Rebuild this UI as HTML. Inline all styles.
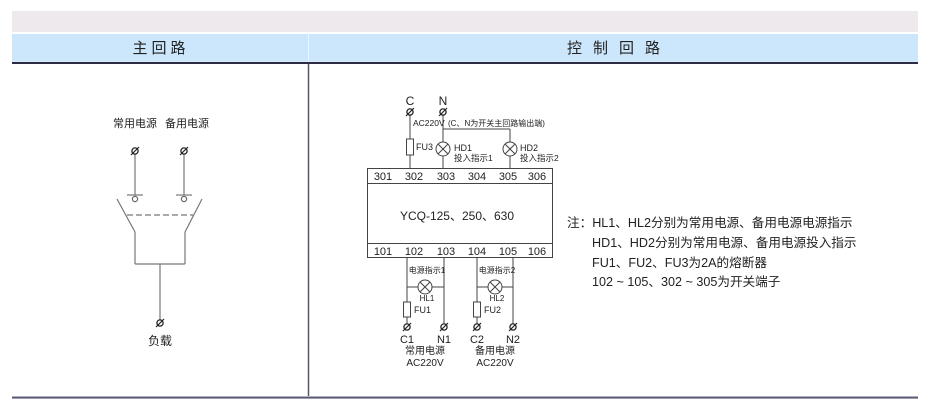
<!DOCTYPE html>
<html>
<head>
<meta charset="utf-8">
<style>
html,body{margin:0;padding:0;background:#fff;}
svg{display:block;}
text{font-family:"Liberation Sans","Noto Sans CJK SC",sans-serif;fill:#222;}
</style>
</head>
<body>
<svg width="930" height="414" viewBox="0 0 930 414" xmlns="http://www.w3.org/2000/svg">
  <defs>
    <g id="term">
      <circle cx="0" cy="0" r="3.1" fill="none" stroke="#222" stroke-width="1.3"/>
      <line x1="-4" y1="4" x2="4" y2="-4" stroke="#222" stroke-width="1.2"/>
    </g>
    <g id="lamp">
      <circle cx="0" cy="0" r="7" fill="#fff" stroke="#444" stroke-width="1"/>
      <line x1="-4.9" y1="-4.9" x2="4.9" y2="4.9" stroke="#444" stroke-width="1"/>
      <line x1="-4.9" y1="4.9" x2="4.9" y2="-4.9" stroke="#444" stroke-width="1"/>
    </g>
  </defs>

  <!-- header -->
  <rect x="12" y="11" width="906" height="21" fill="#ede9ed"/>
  <rect x="12" y="34" width="906" height="27" fill="#cce7fb"/>
  <line x1="308.5" y1="34" x2="308.5" y2="61" stroke="#eaf5fe" stroke-width="1"/>
  <line x1="12" y1="61.5" x2="918" y2="61.5" stroke="#dcebf7" stroke-width="1"/>
  <rect x="12" y="62" width="906" height="2" fill="#2c2c44"/>
  <text x="161" y="53" font-size="15" text-anchor="middle" letter-spacing="4" fill="#222">主回路</text>
  <text x="619" y="53" font-size="15" text-anchor="middle" letter-spacing="11" fill="#222">控制回路</text>

  <!-- divider and bottom -->
  <line x1="308.5" y1="64" x2="308.5" y2="397" stroke="#55556e" stroke-width="1.5"/>
  <rect x="12" y="396" width="906" height="1" fill="#b0b0c4"/>
  <rect x="12" y="397" width="906" height="1.6" fill="#5a5a76"/>

  <!-- LEFT: main circuit -->
  <g stroke="#777" stroke-width="1.2" fill="none">
    <line x1="135" y1="154" x2="135" y2="195"/>
    <line x1="184" y1="154" x2="184" y2="195"/>
    <line x1="127" y1="195" x2="143" y2="195"/>
    <line x1="176" y1="195" x2="192" y2="195"/>
    <circle cx="135" cy="199" r="2.6" stroke="#666"/>
    <circle cx="184" cy="199" r="2.6" stroke="#666"/>
    <line x1="117" y1="199" x2="135" y2="232"/>
    <line x1="202" y1="199" x2="185" y2="232"/>
    <line x1="127" y1="215" x2="193" y2="215" stroke-dasharray="6,3"/>
    <line x1="135" y1="232" x2="135" y2="264"/>
    <line x1="185" y1="232" x2="185" y2="264"/>
    <line x1="135" y1="264" x2="185" y2="264"/>
    <line x1="160" y1="264" x2="160" y2="320"/>
  </g>
  <use href="#term" x="135" y="151"/>
  <use href="#term" x="184" y="151"/>
  <use href="#term" x="160" y="323"/>
  <text x="135" y="127" font-size="11" text-anchor="middle">常用电源</text>
  <text x="187" y="127" font-size="11" text-anchor="middle">备用电源</text>
  <text x="160" y="345" font-size="12" text-anchor="middle">负载</text>

  <!-- RIGHT: control circuit top -->
  <text x="410" y="105" font-size="12" text-anchor="middle">C</text>
  <text x="443" y="105" font-size="12" text-anchor="middle">N</text>
  <g stroke="#444" stroke-width="1" fill="none">
    <line x1="410" y1="115" x2="410" y2="168"/>
    <line x1="443" y1="115" x2="443" y2="168"/>
    <line x1="443" y1="129" x2="510" y2="129"/>
    <line x1="510" y1="129" x2="510" y2="168"/>
    <rect x="406.5" y="139" width="7" height="16" fill="#fff"/>
  </g>
  <use href="#term" x="410" y="112"/>
  <use href="#term" x="443" y="112"/>
  <use href="#lamp" x="443" y="149"/>
  <use href="#lamp" x="510" y="149"/>
  <text x="413" y="126" font-size="8.5">AC220V</text>
  <text x="448" y="126" font-size="8">(C、N为开关主回路输出端)</text>
  <text x="416" y="150" font-size="9">FU3</text>
  <text x="454" y="151" font-size="9">HD1</text>
  <text x="454" y="161" font-size="8.5">投入指示1</text>
  <text x="520" y="151" font-size="9">HD2</text>
  <text x="520" y="161" font-size="8.5">投入指示2</text>

  <!-- box -->
  <rect x="367.5" y="168.5" width="185" height="89" fill="none" stroke="#444" stroke-width="1"/>
  <line x1="367.5" y1="183.5" x2="552.5" y2="183.5" stroke="#444" stroke-width="1"/>
  <line x1="367.5" y1="243.5" x2="552.5" y2="243.5" stroke="#444" stroke-width="1"/>
  <g font-size="11" text-anchor="middle">
    <text x="383" y="180">301</text>
    <text x="414" y="180">302</text>
    <text x="446" y="180">303</text>
    <text x="477" y="180">304</text>
    <text x="508" y="180">305</text>
    <text x="537" y="180">306</text>
    <text x="383" y="255">101</text>
    <text x="414" y="255">102</text>
    <text x="446" y="255">103</text>
    <text x="477" y="255">104</text>
    <text x="508" y="255">105</text>
    <text x="537" y="255">106</text>
  </g>
  <text x="457" y="220" font-size="12" text-anchor="middle">YCQ-125、250、630</text>

  <!-- below box -->
  <g stroke="#444" stroke-width="1" fill="none">
    <line x1="407" y1="258" x2="407" y2="324"/>
    <line x1="444" y1="258" x2="444" y2="324"/>
    <line x1="477" y1="258" x2="477" y2="324"/>
    <line x1="513" y1="258" x2="513" y2="324"/>
    <line x1="407" y1="287" x2="444" y2="287"/>
    <line x1="477" y1="287" x2="513" y2="287"/>
    <rect x="403.5" y="302" width="7" height="15" fill="#fff"/>
    <rect x="473.5" y="302" width="7" height="15" fill="#fff"/>
  </g>
  <use href="#lamp" x="425" y="287"/>
  <use href="#lamp" x="495" y="287"/>
  <use href="#term" x="407" y="327"/>
  <use href="#term" x="444" y="327"/>
  <use href="#term" x="477" y="327"/>
  <use href="#term" x="513" y="327"/>
  <text x="427" y="273" font-size="8" text-anchor="middle">电源指示1</text>
  <text x="497" y="273" font-size="8" text-anchor="middle">电源指示2</text>
  <text x="427" y="301" font-size="8" text-anchor="middle">HL1</text>
  <text x="497" y="301" font-size="8" text-anchor="middle">HL2</text>
  <text x="414" y="313" font-size="9">FU1</text>
  <text x="484" y="313" font-size="9">FU2</text>
  <text x="407" y="343" font-size="11" text-anchor="middle">C1</text>
  <text x="444" y="343" font-size="11" text-anchor="middle">N1</text>
  <text x="477" y="343" font-size="11" text-anchor="middle">C2</text>
  <text x="513" y="343" font-size="11" text-anchor="middle">N2</text>
  <text x="425" y="354" font-size="10" text-anchor="middle">常用电源</text>
  <text x="425" y="366" font-size="10" text-anchor="middle">AC220V</text>
  <text x="495" y="354" font-size="10" text-anchor="middle">备用电源</text>
  <text x="495" y="366" font-size="10" text-anchor="middle">AC220V</text>

  <!-- notes -->
  <g font-size="12.6">
    <text x="567" y="227">注：HL1、HL2分别为常用电源、备用电源电源指示</text>
    <text x="592" y="247">HD1、HD2分别为常用电源、备用电源投入指示</text>
    <text x="592" y="267">FU1、FU2、FU3为2A的熔断器</text>
    <text x="592" y="286">102 ~ 105、302 ~ 305为开关端子</text>
  </g>
</svg>
</body>
</html>
